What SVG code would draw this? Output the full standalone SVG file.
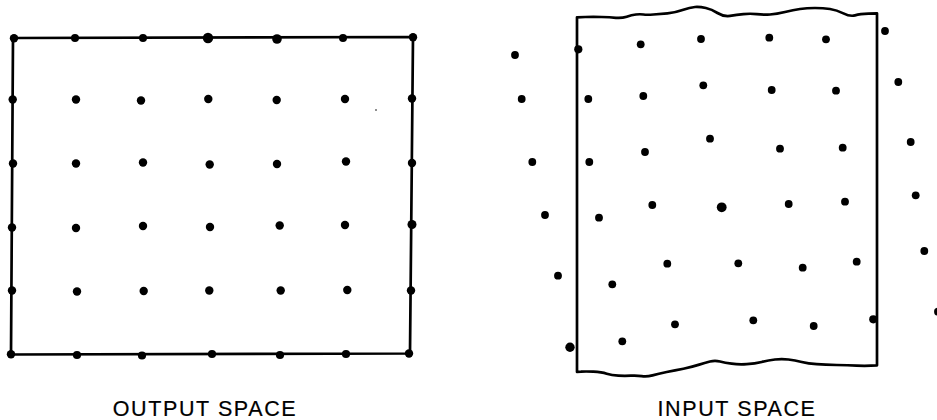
<svg xmlns="http://www.w3.org/2000/svg" width="937" height="420" viewBox="0 0 937 420">
<style>
.frame{fill:none;stroke:#000;stroke-width:2.7;stroke-linejoin:round}
.d circle{fill:#000}
.lbl{font-family:"Liberation Sans",Arial,sans-serif;font-size:21.5px;fill:#000;stroke:#000;stroke-width:0.2;text-anchor:middle;letter-spacing:1.6px}
</style>
<rect width="937" height="420" fill="#fff"/>
<g id="output-space">
<path class="frame" d="M13,38 L413,37 L410,353.5 L11,354.5 Z"/>
<g class="d">
<circle cx="14" cy="38.3" r="4.2"/><circle cx="75" cy="38" r="4"/><circle cx="143" cy="38" r="4"/><circle cx="208" cy="38" r="5.2"/><circle cx="277" cy="39" r="4.8"/><circle cx="343" cy="38" r="4"/><circle cx="413" cy="37.3" r="4.2"/>
<circle cx="12.7" cy="99.5" r="4.2"/><circle cx="76" cy="99.5" r="4.2"/><circle cx="141" cy="100.5" r="4.2"/><circle cx="208.3" cy="99" r="4.2"/><circle cx="276.7" cy="100" r="4.2"/><circle cx="345" cy="99" r="4.2"/><circle cx="412" cy="98.5" r="4.2"/>
<circle cx="13" cy="163.5" r="4.2"/><circle cx="76" cy="163.5" r="4.2"/><circle cx="143" cy="162.5" r="4.2"/><circle cx="209.7" cy="164.5" r="4.2"/><circle cx="277" cy="164" r="4.2"/><circle cx="346" cy="161.5" r="4.2"/><circle cx="412" cy="163" r="4.2"/>
<circle cx="12" cy="227.5" r="4.2"/><circle cx="76" cy="228" r="4.2"/><circle cx="143" cy="226" r="4.2"/><circle cx="210" cy="227" r="4.2"/><circle cx="279.7" cy="225.5" r="4.2"/><circle cx="345" cy="225" r="4.2"/><circle cx="412" cy="224.5" r="4.5"/>
<circle cx="12" cy="290.5" r="4.2"/><circle cx="77" cy="291.5" r="4.2"/><circle cx="143.7" cy="291" r="4.2"/><circle cx="209.3" cy="290.5" r="4.2"/><circle cx="280.7" cy="290.5" r="4.2"/><circle cx="347.3" cy="290" r="4.2"/><circle cx="411" cy="290.5" r="4.2"/>
<circle cx="11" cy="354.3" r="4.2"/><circle cx="77" cy="355" r="4.1"/><circle cx="142" cy="355.5" r="4.1"/><circle cx="212" cy="354" r="4.1"/><circle cx="280" cy="355" r="4.1"/><circle cx="346" cy="354" r="4.1"/><circle cx="409" cy="353.5" r="4.2"/>
<circle cx="376" cy="110" r="0.8"/>
</g>
<text class="lbl" x="205" y="415.5">OUTPUT SPACE</text>
</g>
<g id="input-space">
<path class="frame" d="M577,17.3 L585.2,17 Q593.3,16.7 601.7,17 Q610,17.3 615.9,17.8 Q621.7,18.3 626.7,16.7 Q631.7,15 635.9,14.5 Q640,14 643.4,14.5 Q646.7,15 653.4,14.5 Q660,14 667.5,13.4 Q675,12.7 682.5,10 Q690,7.3 695,7 Q700,6.7 705.9,8 Q711.7,9.3 717.5,13 Q723.3,16.7 730,15.9 Q736.7,15 743.4,14.2 Q750,13.3 756.7,14.2 Q763.3,15 770,14.5 Q776.7,14 785,12 Q793.3,10 800,9 Q806.7,8 815,8 Q823.3,8 830,9 Q836.7,10 843.4,13.4 Q850,16.7 855,15.4 Q860,14 868.5,13.7 L877,13.3 L877,365.3 L871,365.7 Q865,366 856.7,365.7 Q848.3,365.3 836.7,365 Q825,364.7 816.7,364.2 Q808.3,363.7 801.7,362 Q795,360.3 788.4,359.5 Q781.7,358.7 775,359.5 Q768.3,360.3 761.7,362 Q755,363.7 746.7,364.2 Q738.3,364.7 731.7,363.7 Q725,362.7 720,361.5 Q715,360.3 710,361.5 Q705,362.7 698.4,364.9 Q691.7,367 683.4,368.7 Q675,370.3 666.7,372 Q658.3,373.7 652.5,375.4 Q646.7,377 641.7,376.2 Q636.7,375.3 630.9,375.7 Q625,376 618.4,375.7 Q611.7,375.3 606.7,373.7 Q601.7,372 593.4,371.7 Q585,371.3 581,371.7 L577,372 Z"/>
<g class="d">
<circle cx="515" cy="55" r="3.9"/><circle cx="578.3" cy="49.3" r="4.1"/><circle cx="640.7" cy="44.3" r="3.9"/><circle cx="701" cy="39" r="3.9"/><circle cx="769.3" cy="37.7" r="3.9"/><circle cx="826" cy="39.3" r="3.9"/><circle cx="885" cy="31" r="3.9"/>
<circle cx="521.7" cy="99" r="3.9"/><circle cx="588.3" cy="99" r="3.9"/><circle cx="643.3" cy="96" r="3.9"/><circle cx="703.3" cy="85.3" r="3.9"/><circle cx="771.7" cy="90" r="3.9"/><circle cx="836" cy="90.7" r="3.9"/><circle cx="898.3" cy="82" r="3.9"/>
<circle cx="532.3" cy="162" r="3.9"/><circle cx="589.3" cy="162" r="3.9"/><circle cx="645" cy="152" r="3.9"/><circle cx="710" cy="138.7" r="3.9"/><circle cx="780" cy="148.7" r="3.9"/><circle cx="842.7" cy="147.7" r="3.9"/><circle cx="910.7" cy="142" r="3.9"/>
<circle cx="545" cy="215" r="3.9"/><circle cx="599" cy="217.7" r="3.9"/><circle cx="652.3" cy="205" r="3.9"/><circle cx="721.7" cy="207.3" r="4.9"/><circle cx="788.7" cy="204" r="3.9"/><circle cx="845" cy="201.7" r="3.9"/><circle cx="915.7" cy="195.3" r="3.9"/>
<circle cx="558" cy="275.7" r="3.9"/><circle cx="612.3" cy="284.3" r="3.9"/><circle cx="667.3" cy="263.7" r="3.9"/><circle cx="738.3" cy="263.3" r="3.9"/><circle cx="802.7" cy="267.7" r="3.9"/><circle cx="856.7" cy="261.7" r="3.9"/><circle cx="924.3" cy="251" r="3.9"/>
<circle cx="570" cy="347.3" r="4.7"/><circle cx="622.3" cy="341.3" r="3.9"/><circle cx="675" cy="324.3" r="3.9"/><circle cx="753.3" cy="320.3" r="3.9"/><circle cx="813.7" cy="326" r="3.9"/><circle cx="873.3" cy="319.3" r="4.1"/><circle cx="938" cy="311.7" r="3.9"/>
</g>
<text class="lbl" x="737" y="415.5">INPUT SPACE</text>
</g>
</svg>
